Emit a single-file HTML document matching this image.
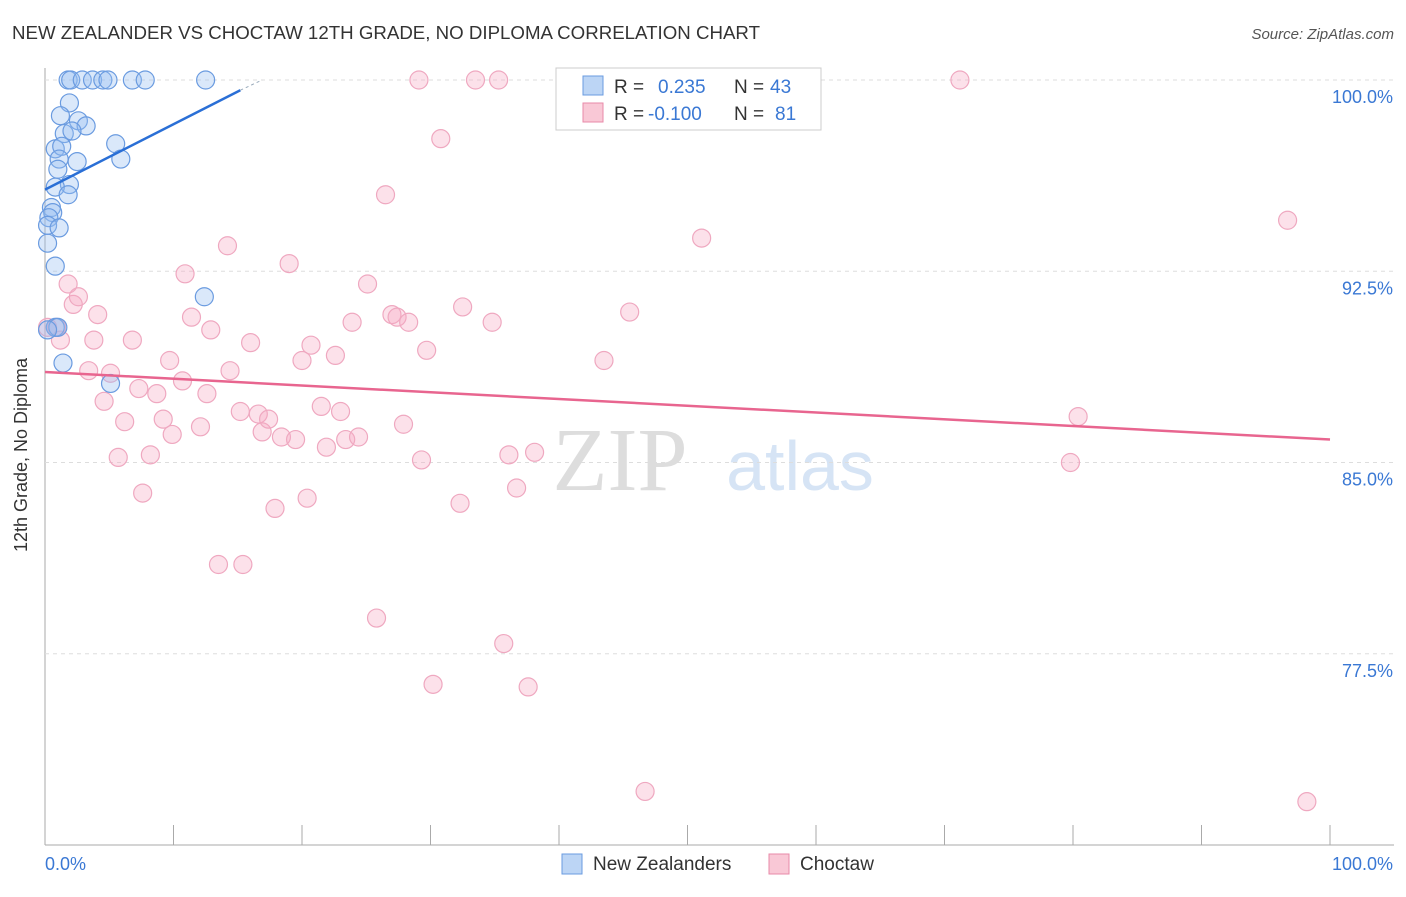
<!DOCTYPE html>
<html><head><meta charset="utf-8"><style>
body{margin:0;background:#fff;font-family:"Liberation Sans",sans-serif}
</style></head><body>
<svg id="c" width="1406" height="892" xmlns="http://www.w3.org/2000/svg">
<text x="12" y="39" font-size="18" fill="#333" textLength="748" lengthAdjust="spacingAndGlyphs">NEW ZEALANDER VS CHOCTAW 12TH GRADE, NO DIPLOMA CORRELATION CHART</text>
<text x="1394" y="39" font-size="15" fill="#555" text-anchor="end" font-style="italic">Source: ZipAtlas.com</text>
<text x="27" y="455" font-size="18" fill="#333" text-anchor="middle" transform="rotate(-90 27 455)">12th Grade, No Diploma</text>
<text x="620" y="490" font-size="90" fill="#ddd" font-family="Liberation Serif,serif" text-anchor="middle">ZIP</text>
<text x="800" y="490" font-size="70" fill="#d6e4f5" text-anchor="middle">atlas</text>
<g id="grid"></g><g id="marks"></g>
<g>
<rect x="556" y="68" width="265" height="62" fill="#fff" stroke="#ccc"/>
<rect x="583" y="76" width="20" height="19" fill="#bcd5f5" stroke="#6a9be0"/>
<rect x="583" y="103" width="20" height="19" fill="#f9c8d6" stroke="#e88aa8"/>
<text x="614" y="93" font-size="19" fill="#333">R =</text><text x="658" y="93" font-size="19" fill="#3a78d4">0.235</text>
<text x="734" y="93" font-size="19" fill="#333">N =</text><text x="770" y="93" font-size="19" fill="#3a78d4">43</text>
<text x="614" y="120" font-size="19" fill="#333">R =</text><text x="648" y="120" font-size="19" fill="#3a78d4">-0.100</text>
<text x="734" y="120" font-size="19" fill="#333">N =</text><text x="775" y="120" font-size="19" fill="#3a78d4">81</text>
</g>
<g>
<rect x="562" y="854" width="20" height="20" fill="#bcd5f5" stroke="#6a9be0"/>
<text x="593" y="870" font-size="19" fill="#333">New Zealanders</text>
<rect x="769" y="854" width="20" height="20" fill="#f9c8d6" stroke="#e88aa8"/>
<text x="800" y="870" font-size="19" fill="#333">Choctaw</text>
</g>
<text x="45" y="870" font-size="18" fill="#3a78d4">0.0%</text>
<text x="1393" y="870" font-size="18" fill="#3a78d4" text-anchor="end">100.0%</text>
</svg>
<script>
const yTicks=[100,92.5,85,77.5];
const blueX=[1.8,2,2.9,3.7,4.5,4.9,6.8,7.8,12.5,1.9,1.2,2.6,3.2,1.5,2.1,0.8,1.3,1.1,2.5,1,5.5,5.9,1.9,0.8,1.8,0.5,0.6,0.3,0.2,1.1,0.2,0.8,12.4,0.8,1,1.4,5.1,0.2];
const blueY=[100,100,100,100,100,100,100,100,100,99.1,98.6,98.4,98.2,97.9,98,97.3,97.4,96.9,96.8,96.5,97.5,96.9,95.9,95.8,95.5,95,94.8,94.6,94.3,94.2,93.6,92.7,91.5,90.3,90.3,88.9,88.1,90.2];
const pinkX=[0.2,0.9,1.2,1.8,2.2,2.6,3.4,3.8,4.1,4.6,5.1,5.7,6.2,6.8,7.3,7.6,8.2,8.7,9.2,9.7,9.9,10.7,10.9,11.4,12.1,12.6,12.9,13.5,14.2,14.4,15.2,15.4,16,16.6,16.9,17.4,17.9,18.4,19,19.5,20,20.4,20.7,21.5,21.9,22.6,23,23.4,23.9,24.4,25.1,25.8,26.5,27,27.4,27.9,28.3,29.1,29.3,29.7,30.2,30.8,32.3,32.5,33.5,34.8,35.3,35.7,36.1,36.7,37.6,38.1,43.5,45.5,46.7,51.1,71.2,79.8,80.4,96.7,98.2];
const pinkY=[90.3,90.3,89.8,92,91.2,91.5,88.6,89.8,90.8,87.4,88.5,85.2,86.6,89.8,87.9,83.8,85.3,87.7,86.7,89,86.1,88.2,92.4,90.7,86.4,87.7,90.2,81,93.5,88.6,87,81,89.7,86.9,86.2,86.7,83.2,86,92.8,85.9,89,83.6,89.6,87.2,85.6,89.2,87,85.9,90.5,86,92,78.9,95.5,90.8,90.7,86.5,90.5,100,85.1,89.4,76.3,97.7,83.4,91.1,100,90.5,100,77.9,85.3,84,76.2,85.4,89,90.9,72.1,93.8,100,85,86.8,94.5,71.7];
const trendBlue=[[0,95.7],[15.2,99.6],[16.9,100]];
const trendPink=[[0,88.55],[100,85.9]];
const NS='http://www.w3.org/2000/svg';
const sx=v=>45+v*12.85, sy=v=>80+(100-v)*25.5;
const grid=document.getElementById('grid'), marks=document.getElementById('marks');
function mk(t,a,p){const e=document.createElementNS(NS,t);for(const k in a)e.setAttribute(k,a[k]);p.appendChild(e);return e;}
let ax=mk('line',{x1:45,y1:68,x2:45,y2:845,stroke:'#aaa'},grid);


let bx=mk('line',{x1:45,y1:845,x2:1394,y2:845,stroke:'#aaa'},grid);


for(let i=0;i<=10;i++){const x=45+i*128.5;let t=mk('line',{x1:x,y1:825,x2:x,y2:845,stroke:'#aaa'},grid);

}
yTicks.forEach(v=>{let l=mk('line',{x1:45,y1:sy(v),x2:1394,y2:sy(v),stroke:'#ddd','stroke-dasharray':'4,4'},grid);


let t=mk('text',{x:1393,y:sy(v)+23,'font-size':18,fill:'#3a78d4','text-anchor':'end'},grid);t.textContent=v.toFixed(1)+'%';

});
pinkX.forEach((x,i)=>{let c=mk('circle',{cx:sx(x),cy:sy(pinkY[i]),r:9,fill:'rgba(246,170,195,0.35)',stroke:'#efa8c0','stroke-width':1.2},marks);

});
blueX.forEach((x,i)=>{let c=mk('circle',{cx:sx(x),cy:sy(blueY[i]),r:9,fill:'rgba(150,190,240,0.35)',stroke:'#6a9be0','stroke-width':1.2},marks);

});
let tb=mk('line',{x1:sx(trendBlue[0][0]),y1:sy(trendBlue[0][1]),x2:sx(trendBlue[1][0]),y2:sy(trendBlue[1][1]),stroke:'#2a6fd6','stroke-width':2.5},marks);


let td=mk('line',{x1:sx(trendBlue[1][0]),y1:sy(trendBlue[1][1]),x2:sx(trendBlue[2][0]),y2:sy(trendBlue[2][1]),stroke:'#9ab','stroke-width':1,'stroke-dasharray':'3,3'},marks);


let tp=mk('line',{x1:sx(trendPink[0][0]),y1:sy(trendPink[0][1]),x2:sx(trendPink[1][0]),y2:sy(trendPink[1][1]),stroke:'#e8658f','stroke-width':2.5},marks);


</script>
</body></html>
